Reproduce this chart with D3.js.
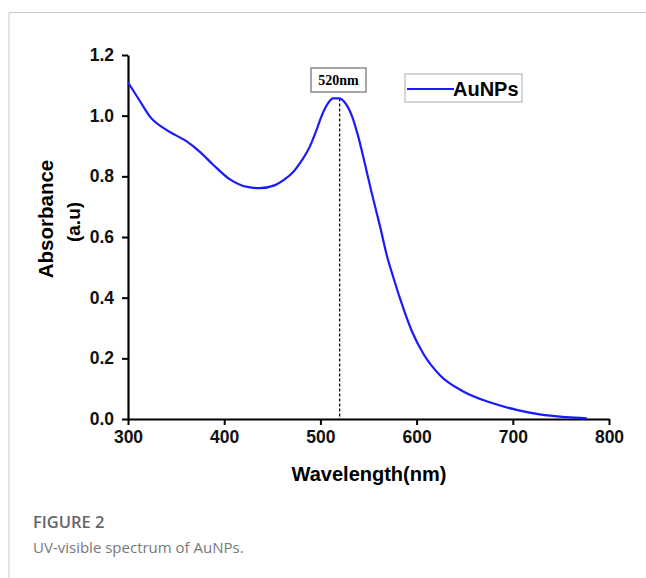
<!DOCTYPE html>
<html>
<head>
<meta charset="utf-8">
<script src="https://cdn.jsdelivr.net/npm/d3@7"></script>
<style>
  body { margin: 0; background: #fff; }
  svg text { font-family: "Liberation Sans", Arial, sans-serif; }
</style>
</head>
<body>
<div id="chart"></div>
<script>
// spectrum
const wavelength = [300, 312, 323, 340, 361, 375, 388, 406, 424, 437, 453, 462, 472, 481, 489, 496, 501, 508, 513, 519, 526, 533, 539, 546, 553, 562, 569, 576, 583, 595, 607, 624, 649, 676, 704, 728, 756, 777]
const absorbance = [1.11, 1.05, 0.996, 0.953, 0.915, 0.88, 0.84, 0.79, 0.765, 0.761, 0.771, 0.788, 0.815, 0.854, 0.898, 0.953, 0.997, 1.041, 1.057, 1.057, 1.041, 0.997, 0.935, 0.845, 0.75, 0.635, 0.54, 0.465, 0.395, 0.29, 0.215, 0.145, 0.090, 0.055, 0.030, 0.015, 0.006, 0.002]
const xTicks = [300, 400, 500, 600, 700, 800]
const yTicks = [0.0, 0.2, 0.4, 0.6, 0.8, 1.0, 1.2]
const peakWavelength = 520
const peakLabel = "520nm"
const seriesName = "AuNPs"

const data = wavelength.map((w, i) => ({w: w, a: absorbance[i]}))

const width = 646, height = 578
const svg = d3.select("#chart").append("svg")
    .attr("width", width)
    .attr("height", height)

// page frame
svg.append("path")
    .attr("d", `M9,${height} V12.5 H${width}`)
    .attr("fill", "none")
    .attr("stroke", "#c8c8c8")
    .attr("stroke-width", 1)

const x = d3.scaleLinear().domain([300, 800]).range([128, 609])
const y = d3.scaleLinear().domain([0, 1.2]).range([419, 55])

// minor ticks first, then major ticks with labels
const gx = svg.append("g")
    .attr("class", "axis x-axis")
    .attr("transform", `translate(0, ${y(0)})`)
gx.call(d3.axisBottom(x).tickValues(d3.range(350, 800, 100)).tickSize(4).tickFormat(""))
gx.call(d3.axisBottom(x).tickValues(xTicks).tickSize(6).tickSizeOuter(0).tickPadding(6).tickFormat(d3.format("d")))

const gy = svg.append("g")
    .attr("class", "axis y-axis")
    .attr("transform", `translate(${x(300)}, 0)`)
gy.call(d3.axisLeft(y).tickValues([0.1, 0.3, 0.5, 0.7, 0.9, 1.1]).tickSize(4).tickFormat(""))
gy.call(d3.axisLeft(y).tickValues(yTicks).tickSize(6).tickSizeOuter(0).tickPadding(8).tickFormat(d3.format(".1f")))

svg.selectAll(".axis path.domain")
    .attr("stroke", "#000")
    .attr("stroke-width", 2.2)
svg.selectAll(".axis line")
    .attr("stroke", "#000")
    .attr("stroke-width", 2)
svg.selectAll(".axis text")
    .attr("font-size", 17.5)
    .attr("font-weight", "bold")
    .attr("fill", "#111")

// peak marker
svg.append("line")
    .attr("x1", x(peakWavelength)).attr("x2", x(peakWavelength))
    .attr("y1", y(1.057)).attr("y2", y(0))
    .attr("stroke", "#111")
    .attr("stroke-width", 1.3)
    .attr("stroke-dasharray", "3,2")

const line = d3.line()
    .x(d => x(d.w))
    .y(d => y(d.a))
    .curve(d3.curveMonotoneX)

svg.append("path")
    .datum(data)
    .attr("fill", "none")
    .attr("stroke", "#1a1aff")
    .attr("stroke-width", 2.2)
    .attr("d", line)

// peak label box
svg.append("rect")
    .attr("x", 311).attr("y", 68)
    .attr("width", 55).attr("height", 24)
    .attr("fill", "#fff")
    .attr("stroke", "#777")
    .attr("stroke-width", 1.3)
svg.append("text")
    .attr("x", 338.5).attr("y", 85)
    .attr("text-anchor", "middle")
    .attr("font-size", 14)
    .attr("font-weight", "bold")
    .style("font-family", "'Liberation Serif', 'Times New Roman', serif")
    .text(peakLabel)

// legend
svg.append("rect")
    .attr("x", 405).attr("y", 74)
    .attr("width", 117).attr("height", 28)
    .attr("fill", "#fff")
    .attr("stroke", "#bbb")
    .attr("stroke-width", 1.2)
svg.append("line")
    .attr("x1", 407).attr("x2", 454)
    .attr("y1", 89).attr("y2", 89)
    .attr("stroke", "#1a1aff")
    .attr("stroke-width", 2.2)
svg.append("text")
    .attr("x", 453).attr("y", 96)
    .attr("font-size", 20)
    .attr("font-weight", "bold")
    .text(seriesName)

// axis titles
svg.append("text")
    .attr("x", 369).attr("y", 481)
    .attr("text-anchor", "middle")
    .attr("font-size", 20)
    .attr("font-weight", "bold")
    .text("Wavelength(nm)")
svg.append("text")
    .attr("transform", "translate(53, 219) rotate(-90)")
    .attr("text-anchor", "middle")
    .attr("font-size", 20.5)
    .attr("font-weight", "bold")
    .text("Absorbance")
svg.append("text")
    .attr("transform", "translate(80, 222) rotate(-90)")
    .attr("text-anchor", "middle")
    .attr("font-size", 19)
    .attr("font-weight", "bold")
    .text("(a.u)")

// caption
svg.append("text")
    .attr("x", 33).attr("y", 528)
    .attr("font-size", 16.5)
    .attr("font-weight", 600)
    .attr("fill", "#666")
    .style("font-family", "'Open Sans', 'Noto Sans', sans-serif")
    .text("FIGURE 2")
svg.append("text")
    .attr("x", 33).attr("y", 553)
    .attr("font-size", 15)
    .attr("fill", "#777")
    .style("font-family", "'Open Sans', 'Noto Sans', sans-serif")
    .text("UV-visible spectrum of AuNPs.")
</script>
</body>
</html>
